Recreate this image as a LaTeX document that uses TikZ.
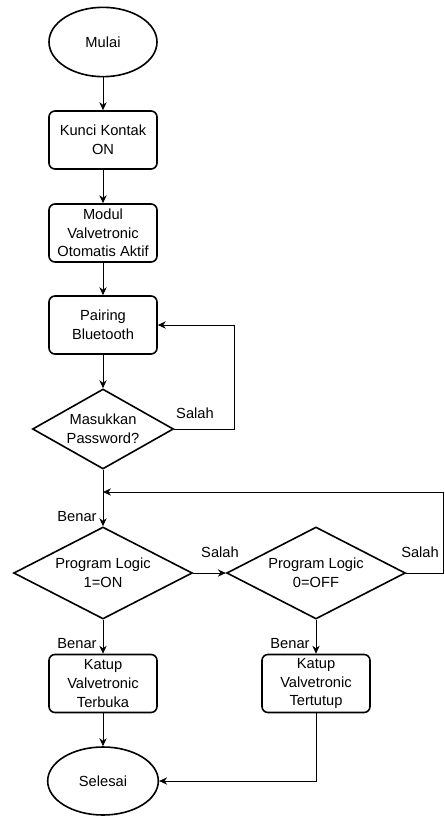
\documentclass[tikz,border=0pt]{standalone}
\usepackage{fontspec}
\setmainfont{Liberation Sans}
\usetikzlibrary{shapes.geometric,arrows.meta}
\begin{document}
\begin{tikzpicture}[x=0.75pt,y=-0.75pt,
  every node/.style={font=\fontsize{11}{14}\selectfont, align=center},
  term/.style={ellipse, draw, line width=1.2pt, minimum width=81pt, minimum height=52pt, inner sep=0pt},
  proc/.style={rectangle, rounded corners=4.5pt, draw, line width=1.2pt, minimum width=81pt, minimum height=43.5pt, inner sep=0pt},
  decA/.style={diamond, draw, line width=1.2pt, aspect=1.76, minimum width=105.75pt, minimum height=60pt, inner sep=0pt},
  decB/.style={diamond, draw, line width=1.2pt, aspect=1.95, minimum width=134pt, minimum height=69pt, inner sep=0pt},
  conn/.style={draw, line width=0.75pt, -{Stealth[length=6pt,width=5.5pt]}},
  lbl/.style={inner sep=0pt}]
\useasboundingbox (0,0) rectangle (444,816);

\node[term] (mulai) at (103,42) {Mulai};
\node[proc] (kunci) at (103,140) {Kunci Kontak\\ON};
\node[proc] (modul) at (103,233) {Modul\\Valvetronic\\Otomatis Aktif};
\node[proc] (pair) at (103,325) {Pairing\\Bluetooth};
\node[decA] (mas) at (103,429) {Masukkan\\Password?};
\node[decB] (pl1) at (103,573) {Program Logic\\1=ON};
\node[decB] (pl2) at (316,573) {Program Logic\\0=OFF};
\node[proc] (k1) at (103,683.5) {Katup\\Valvetronic\\Terbuka};
\node[proc] (k2) at (316,683.5) {Katup\\Valvetronic\\Tertutup};
\node[term, minimum width=83pt, minimum height=51pt] (sel) at (103,781) {Selesai};

\coordinate (j) at (103,492);
\coordinate (re) at (443.5,573);

\draw[conn] (mulai) -- (kunci);
\draw[conn] (kunci) -- (modul);
\draw[conn] (modul) -- (pair);
\draw[conn] (pair) -- (mas);
\draw[conn] (mas.east) -- ++(60,0) |- (pair.east);
\draw[conn] (mas.south) -- (pl1.north);
\draw[conn] (pl1.east) -- (pl2.west);
\draw[conn] (pl2.east) -- (re) |- (j);
\draw[conn] (pl1.south) -- (k1.north);
\draw[conn] (pl2.south) -- (k2.north);
\draw[conn] (k1.south) -- (sel.north);
\draw[conn] (k2.south) |- (sel.east);

\node[lbl] (s1) at (195,413) {Salah};
\node[lbl] (b1) at (77,517) {Benar};
\node[lbl] (s2) at (220,552) {Salah};
\node[lbl] (s3) at (420,552) {Salah};
\node[lbl] (b2) at (77,644) {Benar};
\node[lbl] (b3) at (290,644) {Benar};
\end{tikzpicture}
\end{document}
